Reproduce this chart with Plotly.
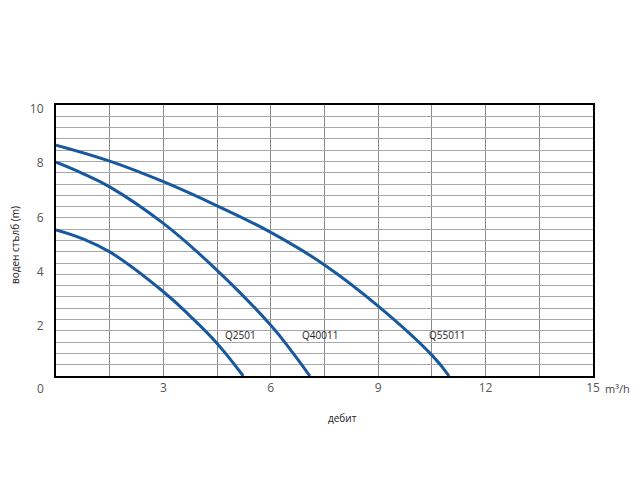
import plotly.graph_objects as go

# Pump curves: flow (m³/h) vs head (m)
q2501_x = [0, 0.75, 1.5, 3.0, 3.74, 4.5, 5.23]
q2501_y = [5.39, 5.06, 4.58, 3.11, 2.22, 1.2, 0.0]

q40011_x = [0, 0.75, 1.5, 3.0, 4.5, 6.0, 6.6, 7.09]
q40011_y = [7.89, 7.47, 6.98, 5.63, 3.9, 1.87, 0.88, 0.0]

q55011_x = [0, 1.5, 3.0, 4.5, 6.0, 7.5, 9.0, 10.5, 10.98]
q55011_y = [8.52, 7.93, 7.17, 6.28, 5.30, 4.10, 2.58, 0.77, 0.0]

series = [("Q2501", q2501_x, q2501_y), ("Q40011", q40011_x, q40011_y), ("Q55011", q55011_x, q55011_y)]
label_pos = {"Q2501": (5.14, 1.51), "Q40011": (7.37, 1.51), "Q55011": (10.92, 1.51)}

x_ticks = [3, 6, 9, 12, 15]
y_ticks = [2, 4, 6, 8, 10]

line_color = "#17589e"

fig = go.Figure()
for name, xs, ys in series:
    fig.add_trace(go.Scatter(x=xs, y=ys, mode="lines", name=name,
                             line=dict(color=line_color, width=3, shape="spline", smoothing=1.2),
                             showlegend=False, hoverinfo="skip"))

annotations = []
for name, (lx, ly) in label_pos.items():
    annotations.append(dict(x=lx, y=ly, xref="x", yref="y", text=name, showarrow=False,
                            font=dict(family="Open Sans", size=10, color="#222")))
annotations += [
    dict(x=0, y=0, xref="x", yref="y", text="0", showarrow=False, xshift=-16, yshift=-12,
         font=dict(family="Open Sans", size=12, color="#555")),
    dict(x=15, y=0, xref="x", yref="y", text="m³/h", showarrow=False, xshift=24, yshift=-12,
         font=dict(family="Open Sans", size=11, color="#444")),
    dict(x=(342 - 56) / 537, y=(376 - 418) / 271, xref="paper", yref="paper", text="дебит",
         xanchor="center", yanchor="middle",
         showarrow=False, font=dict(family="Open Sans", size=10, color="#222")),
    dict(x=(15 - 56) / 537, y=(376 - 245) / 271, xref="paper", yref="paper", text="воден стълб (m)",
         xanchor="center", yanchor="middle",
         showarrow=False, textangle=-90, font=dict(family="Open Sans", size=10, color="#222")),
]

fig.update_layout(
    width=624, height=465,
    margin=dict(l=48, r=39, t=97, b=97),
    plot_bgcolor="white", paper_bgcolor="white",
    annotations=annotations,
    xaxis=dict(range=[0, 15], tickvals=x_ticks, ticktext=[str(v) for v in x_ticks],
               showgrid=False, zeroline=False, showline=True, mirror=True,
               linecolor="black", linewidth=2, ticks="",
               tickfont=dict(family="Open Sans", size=12, color="#555"),
               minor=dict(tick0=0, dtick=1.5, showgrid=True, gridcolor="#8a8a8a", gridwidth=1, ticks="")),
    yaxis=dict(range=[0, 10], tickvals=y_ticks, ticktext=[str(v) for v in y_ticks],
               showgrid=False, zeroline=False, showline=True, mirror=True,
               linecolor="black", linewidth=2, ticks="", ticklabelstandoff=8, ticklabelshift=4,
               tickfont=dict(family="Open Sans", size=12, color="#555"),
               minor=dict(tick0=0, dtick=10 / 24, showgrid=True, gridcolor="#a8a8a8", gridwidth=1, ticks="")),
)

fig.write_html("out.html")
